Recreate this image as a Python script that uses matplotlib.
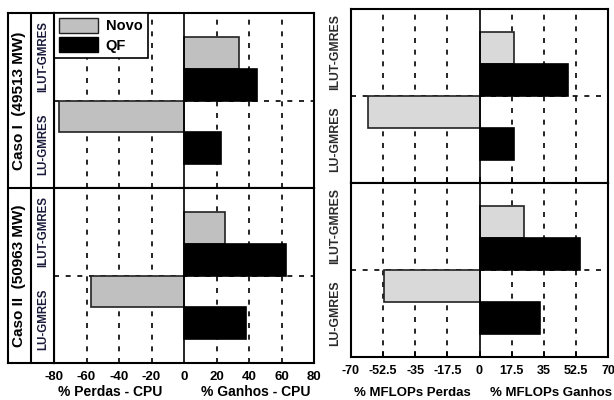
import matplotlib
matplotlib.use('Agg')
import numpy as np
from matplotlib import pyplot as plt
from matplotlib.patches import Patch

plt.rcParams['font.family'] = ['Liberation Sans', 'DejaVu Sans']

# dados (ordem: ILUT-GMRES, LU-GMRES)
metodos = ['ILUT-GMRES', 'LU-GMRES']
casos = ['Caso I  (49513 MW)', 'Caso II  (50963 MW)']
cpu_novo = [[34, -77], [25, -57]]
cpu_qf = [[45, 23], [63, 38]]
mflops_novo = [[19, -61], [24, -52]]
mflops_qf = [[48, 19], [55, 33]]
cpu_ticks = [-80, -60, -40, -20, 0, 20, 40, 60, 80]
mflops_ticks = [-70, -52.5, -35, -17.5, 0, 17.5, 35, 52.5, 70]
mflops_ticklabels = ['-70', '-52.5', '-35', '-17.5', '0', '17.5', '35', '52.5', '70']

W, H = 614, 400
fig = plt.figure(figsize=(6.14, 4.0), dpi=100)


def px_axes(x0, y0, x1, y1):
    # caixa em pixels (origem no topo) -> axes
    return fig.add_axes([x0 / W, 1 - y1 / H, (x1 - x0) / W, (y1 - y0) / H])


h = 0.73


def draw_panel(ax, novo, qf, lim, ticks, grey, show_labels, ticklabels=None, tick_len=0):
    pos_novo = [2 - 1.5 * h, 2 + 0.5 * h]
    pos_qf = [2 - 0.5 * h, 2 + 1.5 * h]
    for t in ticks:
        if t == 0:
            ax.axvline(0, color='black', lw=1.2, zorder=3)
        elif abs(t) != lim:
            ax.axvline(t, color='black', lw=1.2, ls=(0, (3, 4)), zorder=0)
    ax.axhline(2, color='black', lw=1.2, ls=(0, (3, 4)), zorder=0)
    ax.barh(pos_novo, novo, height=h, color=grey, edgecolor='#222222', lw=1.2, zorder=2)
    ax.barh(pos_qf, qf, height=h, color='black', edgecolor='black', lw=1.2, zorder=2)
    ax.set_xlim(-lim, lim)
    ax.set_ylim(4, 0)
    ax.set_yticks([])
    ax.set_xticks(ticks)
    if show_labels:
        ax.set_xticklabels(ticklabels if ticklabels else [str(t) for t in ticks],
                           fontsize=9.5, fontweight='bold')
    else:
        ax.set_xticklabels([])
    ax.tick_params(axis='x', direction='in', length=tick_len, width=1.2, pad=6)
    for s in ax.spines.values():
        s.set_linewidth(1.5)


# painel esquerdo - CPU
ax1 = px_axes(54, 13, 314, 188)
ax2 = px_axes(54, 188, 314, 363)
draw_panel(ax1, cpu_novo[0], cpu_qf[0], 80, cpu_ticks, '#c0c0c0', False)
draw_panel(ax2, cpu_novo[1], cpu_qf[1], 80, cpu_ticks, '#c0c0c0', True)

leg = ax1.legend(handles=[Patch(facecolor='#c0c0c0', edgecolor='#222222', label='Novo'),
                          Patch(facecolor='black', edgecolor='black', label='QF')],
                 loc='upper left', borderaxespad=0, fancybox=False, framealpha=1,
                 edgecolor='black', prop={'weight': 'bold', 'size': 10.5},
                 handlelength=2.7, handleheight=1.2, labelspacing=0.25, borderpad=0.35,
                 handletextpad=0.5)
leg.get_frame().set_linewidth(1.2)

# colunas de rótulos
axl = px_axes(8, 13, 54, 363)
axl.set_xlim(0, 46)
axl.set_ylim(350, 0)
axl.set_xticks([])
axl.set_yticks([])
for s in axl.spines.values():
    s.set_linewidth(1.5)
axl.axvline(23, color='black', lw=1.5)
axl.axhline(175, color='black', lw=1.5)
for i, caso in enumerate(casos):
    axl.text(11.5, 87.5 + 175 * i, caso, rotation=90, ha='center', va='center',
             fontsize=11, fontweight='bold')
    for j, m in enumerate(metodos):
        axl.text(35, 43.75 + 87.5 * j + 175 * i, m, rotation=90, ha='center', va='center',
                 fontsize=8.3, fontweight='bold', color='#1a1a3a')

# painel direito - MFLOPs
ax3 = px_axes(351, 9, 608, 183)
ax4 = px_axes(351, 183, 608, 357)
draw_panel(ax3, mflops_novo[0], mflops_qf[0], 70, mflops_ticks, '#d9d9d9', False, tick_len=4)
draw_panel(ax4, mflops_novo[1], mflops_qf[1], 70, mflops_ticks, '#d9d9d9', True,
           mflops_ticklabels, tick_len=4)
for lab in ax4.get_xticklabels():
    lab.set_fontsize(9)
for a in (ax3, ax4):
    for j, m in enumerate(metodos):
        a.text(-0.062, 0.75 - 0.5 * j, m, rotation=90, transform=a.transAxes,
               ha='center', va='center', fontsize=8.8, fontweight='bold', color='#2a2a2a')

# títulos dos eixos
fig.text(110 / W, 1 - 392 / H, '% Perdas - CPU', ha='center', va='center', fontsize=10, fontweight='bold')
fig.text(256 / W, 1 - 392 / H, '% Ganhos - CPU', ha='center', va='center', fontsize=10, fontweight='bold')
fig.text(412 / W, 1 - 393 / H, '% MFLOPs Perdas', ha='center', va='center', fontsize=9.5, fontweight='bold')
fig.text(551 / W, 1 - 393 / H, '% MFLOPs Ganhos', ha='center', va='center', fontsize=9.5, fontweight='bold')

plt.savefig('out.png', dpi=100)
